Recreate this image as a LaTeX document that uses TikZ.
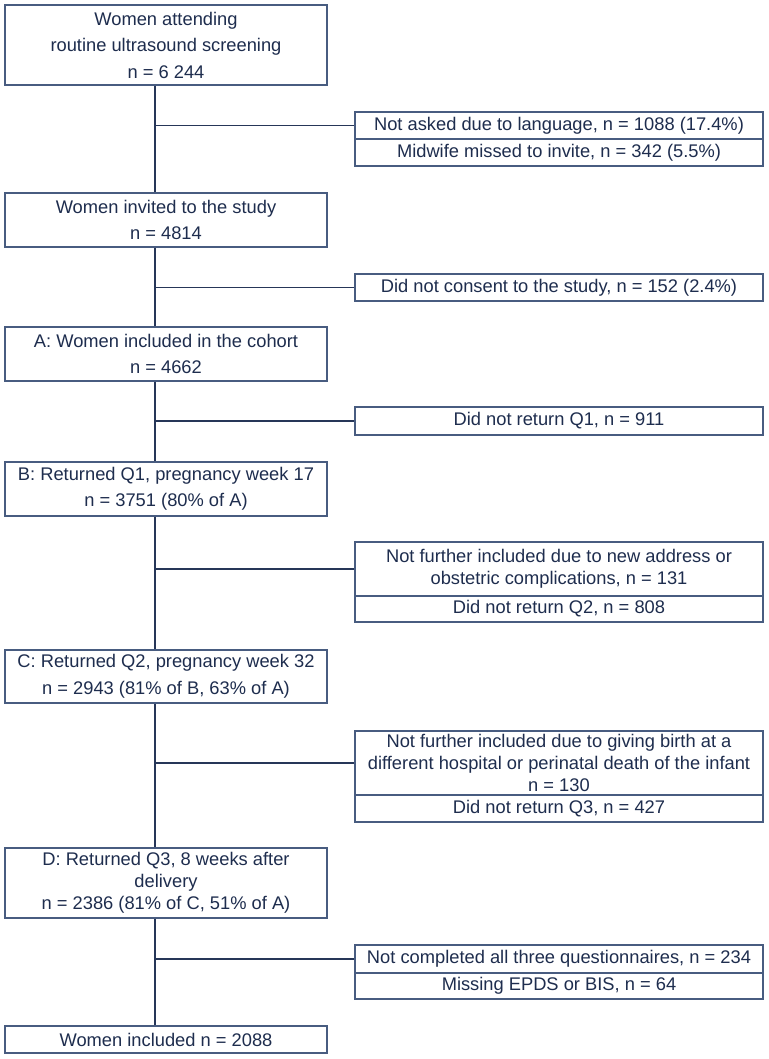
\documentclass[tikz,border=0pt]{standalone}
\usepackage{fontspec}
\setmainfont{Liberation Sans}
\definecolor{txtc}{RGB}{30,45,78}
\definecolor{boxc}{RGB}{72,92,128}
\definecolor{linec}{RGB}{38,54,88}
\begin{document}
\begin{tikzpicture}[x=1pt,y=-1pt,
  box/.style={draw=boxc,line width=1.2pt,text=txtc,align=center,inner sep=0pt,
    font=\fontsize{18.3}{22}\selectfont},
  lbox/.style={box,minimum width=322pt},
  rbox/.style={box,minimum width=408pt},
  wide/.style={font=\fontsize{18.3}{26.5}\selectfont},
  conn/.style={draw=linec,line width=1.3pt}]
\useasboundingbox[fill=white] (0,0) rectangle (768,1059);
% main column
\node[lbox,wide,minimum height=80pt] (b1) at (166,45) {Women attending\\routine ultrasound screening\\n = 6 244};
\node[lbox,wide,minimum height=54pt] (b2) at (166,220) {Women invited to the study\\n = 4814};
\node[lbox,wide,minimum height=54pt] (bA) at (166,354) {A: Women included in the cohort\\n = 4662};
\node[lbox,wide,minimum height=54pt] (bB) at (166,489) {B: Returned Q1, pregnancy week 17\\n = 3751 (80\% of A)};
\node[lbox,wide,minimum height=53pt] (bC) at (166,676.5) {C: Returned Q2, pregnancy week 32\\n = 2943 (81\% of B, 63\% of A)};
\node[lbox,minimum height=70pt] (bD) at (166,883) {D: Returned Q3, 8 weeks after\\delivery\\n = 2386 (81\% of C, 51\% of A)};
\node[lbox,minimum height=27pt] (bF) at (166,1039.5) {Women included n = 2088};
% side boxes
\node[rbox,minimum height=27pt] (r1a) at (559,125.5) {Not asked due to language, n = 1088 (17.4\%)};
\node[rbox,minimum height=27pt] (r1b) at (559,152.5) {Midwife missed to invite, n = 342 (5.5\%)};
\node[rbox,minimum height=27pt] (r2) at (559,287.5) {Did not consent to the study, n = 152 (2.4\%)};
\node[rbox,minimum height=28pt] (r3) at (559,421) {Did not return Q1, n = 911};
\node[rbox,minimum height=54pt] (r4a) at (559,569) {Not further included due to new address or\\obstetric complications, n = 131};
\node[rbox,minimum height=26pt] (r4b) at (559,609) {Did not return Q2, n = 808};
\node[rbox,minimum height=64pt] (r5a) at (559,763) {Not further included due to giving birth at a\\different hospital or perinatal death of the infant\\n = 130};
\node[rbox,minimum height=27pt] (r5b) at (559,808.5) {Did not return Q3, n = 427};
\node[rbox,minimum height=28pt] (r6a) at (559,959) {Not completed all three questionnaires, n = 234};
\node[rbox,minimum height=26pt] (r6b) at (559,986) {Missing EPDS or BIS, n = 64};
% junction points on the main line
\coordinate (m) at (155,0);
\coordinate (j1) at (r1a.west -| m);
\coordinate (j2) at (r2.west -| m);
\coordinate (j3) at (r3.west -| m);
\coordinate (j4) at (r4a.west -| m);
\coordinate (j5) at (r5a.west -| m);
\coordinate (j6) at (r6a.west -| m);
% vertical connectors
\draw[conn] (b1.south -| m) -- (b2.north -| m);
\draw[conn] (b2.south -| m) -- (bA.north -| m);
\draw[conn] (bA.south -| m) -- (bB.north -| m);
\draw[conn] (bB.south -| m) -- (bC.north -| m);
\draw[conn] (bC.south -| m) -- (bD.north -| m);
\draw[conn] (bD.south -| m) -- (bF.north -| m);
% branches
\draw[conn] (j1) -- (r1a.west);
\draw[conn] (j2) -- (r2.west);
\draw[conn] (j3) -- (r3.west);
\draw[conn] (j4) -- (r4a.west);
\draw[conn] (j5) -- (r5a.west);
\draw[conn] (j6) -- (r6a.west);
\end{tikzpicture}
\end{document}
